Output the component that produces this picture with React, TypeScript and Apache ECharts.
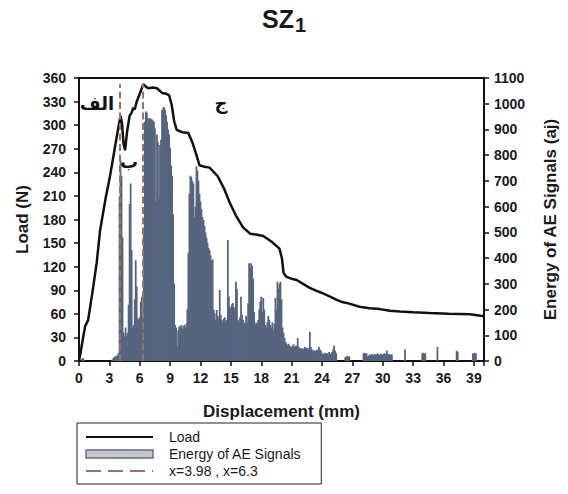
import React, { useEffect, useRef } from 'react';
import * as echarts from 'echarts';

// Load curve (Displacement mm, Load N)
const loadX = [0, 0.15, 0.3, 0.6, 0.9, 1.3, 1.75, 2.07, 2.6, 3.06, 3.5, 3.9, 4.1, 4.25, 4.4, 4.55, 4.75, 5.0, 5.2, 5.35, 5.5, 5.7, 6.0, 6.35, 6.6, 6.85, 7.3, 7.7, 8.2, 8.6, 8.9, 9.15, 9.4, 9.65, 10.2, 10.8, 11.2, 11.6, 11.9, 12.4, 12.9, 13.7, 14.3, 14.9, 15.5, 16.2, 16.9, 17.5, 18.2, 19.0, 19.8, 20.05, 20.2, 20.5, 20.9, 21.5, 22.0, 22.8, 23.5, 24.1, 24.8, 25.4, 26.0, 26.7, 27.7, 28.7, 29.7, 30.7, 31.7, 33.0, 34.6, 36.5, 38.6, 39.5, 40];
const loadY = [0, 10, 22, 44, 52, 85, 125, 165, 205, 235, 268, 298, 312, 302, 276, 268, 292, 312, 316, 322, 320, 330, 340, 352, 349, 347, 348, 347, 341, 340, 338, 326, 305, 294, 291, 290, 278, 262, 249, 247, 246, 235, 220, 201, 185, 170, 162, 161, 159, 152, 143, 130, 112, 107, 105, 103, 99, 93, 89, 86, 82, 78, 75, 73, 69, 67, 66, 64, 63, 62, 61, 60, 59.5, 58, 57];

// Energy of AE signals (aj): one row per mm, 10 samples 0.1 mm apart
const energyStep = 0.1;
const energyRows = [
  [0, 0, 0, 8, 12, 5, 0, 0, 0, 0],
  [0, 0, 0, 0, 0, 0, 0, 0, 0, 0],
  [0, 0, 0, 0, 0, 0, 0, 0, 0, 0],
  [0, 0, 0, 6, 12, 15, 18, 20, 22, 30],
  [640, 780, 720, 480, 110, 95, 130, 100, 110, 220],
  [610, 690, 430, 130, 140, 240, 392, 290, 165, 160],
  [170, 230, 250, 180, 520, 930, 970, 965, 945, 935],
  [945, 940, 940, 935, 930, 905, 620, 880, 850, 640],
  [840, 860, 975, 982, 987, 978, 955, 930, 900, 880],
  [830, 760, 720, 570, 300, 140, 130, 56, 120, 135],
  [130, 140, 125, 135, 140, 130, 145, 200, 420, 650],
  [720, 715, 700, 690, 560, 600, 757, 740, 700, 650],
  [620, 590, 560, 548, 525, 500, 480, 460, 440, 430],
  [410, 390, 395, 200, 185, 160, 198, 175, 165, 276],
  [180, 160, 150, 165, 170, 150, 160, 470, 250, 211],
  [205, 220, 225, 210, 200, 308, 280, 160, 150, 170],
  [250, 180, 160, 145, 150, 175, 150, 224, 380, 360],
  [380, 370, 320, 190, 140, 150, 145, 160, 200, 230],
  [250, 190, 245, 200, 140, 130, 150, 175, 160, 140],
  [130, 150, 120, 145, 245, 200, 308, 280, 300, 308],
  [240, 130, 110, 90, 75, 67, 60, 67, 60, 55],
  [55, 60, 65, 55, 58, 60, 89, 55, 50, 48],
  [50, 45, 48, 55, 50, 52, 45, 50, 114, 55],
  [45, 40, 42, 38, 40, 45, 40, 55, 45, 40],
  [30, 28, 25, 32, 28, 30, 25, 35, 28, 30],
  [35, 45, 60, 40, 30, 0, 0, 0, 0, 0],
  [0, 0, 0, 15, 18, 20, 15, 18, 0, 0],
  [0, 0, 0, 0, 0, 0, 0, 0, 0, 0],
  [0, 30, 32, 28, 30, 18, 20, 25, 22, 28],
  [25, 22, 28, 24, 26, 30, 25, 22, 28, 26],
  [24, 28, 30, 26, 40, 25, 28, 22, 25, 26],
  [0, 0, 0, 0, 0, 0, 0, 0, 0, 0],
  [0, 0, 45, 0, 0, 0, 0, 0, 0, 0],
  [0, 0, 0, 0, 0, 0, 0, 0, 0, 30],
  [32, 28, 30, 0, 0, 0, 0, 0, 0, 0],
  [0, 0, 0, 0, 55, 0, 0, 0, 0, 0],
  [0, 0, 0, 0, 0, 0, 0, 0, 0, 0],
  [0, 0, 0, 40, 35, 0, 0, 0, 0, 0],
  [0, 0, 0, 0, 0, 0, 0, 0, 0, 30],
  [28, 32, 30, 0, 0, 0, 0, 0, 0, 0],
];

// Vertical dashed markers
const markerX = [3.98, 6.3];
const markerTop = 352;

// Axes
const xMin = 0, xMax = 40, xInterval = 3;
const loadMin = 0, loadMax = 360, loadInterval = 30;
const energyMin = 0, energyMax = 1100, energyInterval = 100;

const seriesNames = ['Load', 'Energy of AE Signals', 'x=3.98 , x=6.3'];
const titleMain = 'SZ';
const titleSub = '1';
const stageLabels = ['الف', 'ب', 'ج'];

const FONT = "'Liberation Sans', Arial, sans-serif";
const INK = '#1a1a1a';

export default function App() {
  const ref = useRef<HTMLDivElement>(null);
  useEffect(() => {
    if (!ref.current) return;
    const chart = echarts.init(ref.current, undefined, { renderer: 'svg' });
    const loadData = loadX.map((x, i) => [x, loadY[i]]);
    const energyData: number[][] = [];
    energyRows.forEach((row, mm) => row.forEach((v, j) => energyData.push([+(mm + j * energyStep).toFixed(2), v])));
    const axisLabel = { color: INK, fontSize: 14, fontWeight: 'bold' as const, fontFamily: FONT };
    const nameStyle = { color: INK, fontSize: 17, fontWeight: 'bold' as const, fontFamily: FONT };
    const axisLine = { show: true, lineStyle: { color: '#111', width: 2 } };
    const axisTick = { show: true, inside: false, length: 5, lineStyle: { color: '#111', width: 1.5 } };

    chart.setOption({
      animation: false,
      backgroundColor: '#fff',
      title: {
        text: `{a|${titleMain}}{b|${titleSub}}`,
        left: 'center',
        top: 0,
        padding: [4, 5, 5, 5],
        textStyle: {
          rich: {
            a: { fontSize: 25, fontWeight: 'bold', fontFamily: FONT, color: INK, lineHeight: 30 },
            b: { fontSize: 20, fontWeight: 'bold', fontFamily: FONT, color: INK, lineHeight: 30, padding: [11, 0, 0, 1] },
          },
        },
      },
      grid: { left: 79, right: 84, top: 78, bottom: 133, show: true, borderColor: '#111', borderWidth: 2, backgroundColor: 'transparent' },
      legend: {
        orient: 'vertical',
        left: 77,
        top: 423,
        itemWidth: 67,
        itemHeight: 8,
        itemGap: 3,
        padding: [7, 20, 6, 8],
        borderColor: '#222',
        borderWidth: 1,
        textStyle: { color: INK, fontSize: 14, fontFamily: FONT, padding: [0, 0, 0, 11] },
        data: [
          { name: seriesNames[0], itemStyle: { opacity: 0 } },
          { name: seriesNames[1], icon: 'rect', itemStyle: { color: '#c8c8c8', borderColor: '#5f7190', borderWidth: 1.5 } },
          { name: seriesNames[2], itemStyle: { opacity: 0 }, lineStyle: { type: [15, 7], width: 2 } },
        ],
      },
      xAxis: {
        type: 'value',
        min: xMin,
        max: xMax,
        interval: xInterval,
        name: 'Displacement (mm)',
        nameLocation: 'middle',
        nameGap: 42,
        nameTextStyle: nameStyle,
        axisLine,
        axisTick,
        splitLine: { show: false },
        axisLabel: { ...axisLabel, margin: 10, formatter: (v: number) => (v % xInterval === 0 ? String(v) : '') },
      },
      yAxis: [
        {
          type: 'value',
          min: loadMin,
          max: loadMax,
          interval: loadInterval,
          name: 'Load (N)',
          nameLocation: 'middle',
          nameGap: 48,
          nameTextStyle: nameStyle,
          axisLine,
          axisTick,
          splitLine: { show: false },
          axisLabel: { ...axisLabel, margin: 13, formatter: (v: number) => String(v) },
        },
        {
          type: 'value',
          position: 'right',
          min: energyMin,
          max: energyMax,
          interval: energyInterval,
          name: 'Energy of AE Signals (aj)',
          nameLocation: 'middle',
          nameGap: 58,
          nameTextStyle: nameStyle,
          axisLine,
          axisTick,
          splitLine: { show: false },
          axisLabel: { ...axisLabel, margin: 10, formatter: (v: number) => String(v) },
        },
      ],
      series: [
        {
          name: seriesNames[1],
          type: 'bar',
          yAxisIndex: 1,
          data: energyData,
          barWidth: 1.8,
          itemStyle: { color: '#56657f' },
          z: 1,
        },
        {
          name: seriesNames[2],
          type: 'line',
          data: [],
          symbol: 'none',
          lineStyle: { color: '#9a7462', type: [15, 7], width: 2 },
          itemStyle: { color: '#9a7462' },
          markLine: {
            silent: true,
            symbol: 'none',
            label: { show: false },
            lineStyle: { color: '#9a7462', type: [7, 3.5], width: 2 },
            data: markerX.map((x) => [{ coord: [x, 0] }, { coord: [x, markerTop] }]),
          },
          z: 3,
        },
        {
          name: seriesNames[0],
          type: 'line',
          data: loadData,
          symbol: 'none',
          lineStyle: { color: '#111', width: 2.5 },
          itemStyle: { color: '#111' },
          z: 4,
        },
      ],
      graphic: [
        { type: 'text', x: 97, y: 103, z: 100, style: { text: stageLabels[0], font: "bold 18px 'DejaVu Sans'", fill: '#111', align: 'center', verticalAlign: 'middle' } },
        { type: 'text', x: 129, y: 161, z: 100, style: { text: stageLabels[1], font: "bold 18px 'DejaVu Sans'", fill: '#111', align: 'center', verticalAlign: 'middle' } },
        { type: 'text', x: 221, y: 102, z: 100, style: { text: stageLabels[2], font: "bold 18px 'DejaVu Sans'", fill: '#111', align: 'center', verticalAlign: 'middle' } },
      ],
    });
    return () => chart.dispose();
  }, []);
  return <div ref={ref} style={{ position: 'fixed', left: 0, top: 0, width: 568, height: 494, background: '#fff' }} />;
}
